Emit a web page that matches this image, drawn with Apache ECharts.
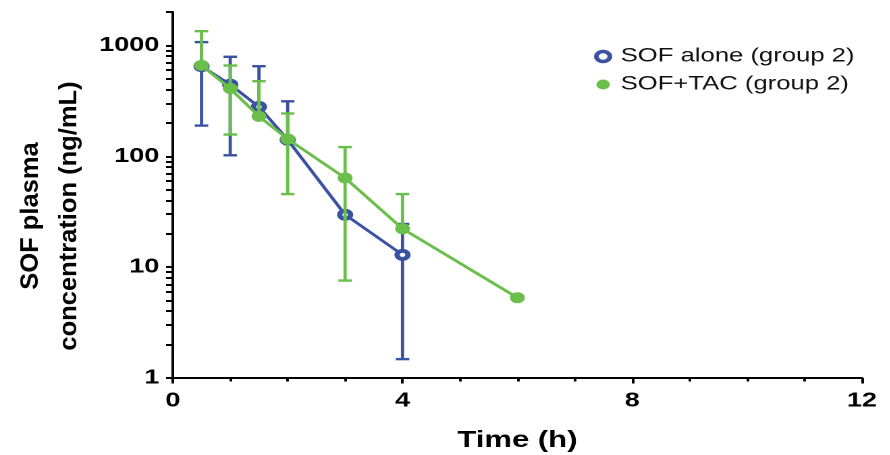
<!DOCTYPE html>
<html>
<head>
<meta charset="utf-8">
<script src="https://cdn.jsdelivr.net/npm/echarts@6/dist/echarts.min.js"></script>
<style>
  html, body { margin: 0; padding: 0; background: #fff; overflow: hidden; }
  /* the original figure is stretched sideways, so the chart is drawn narrow and widened */
  #chart { width: 659px; height: 455px; transform: scaleX(1.35); transform-origin: 0 0; }
</style>
</head>
<body>
<div id="chart"></div>
<script>
const stretch = 1.35
const fontFamily = 'Liberation Sans, Arial, sans-serif'

// SOF alone (group 2)
const aloneTime = [0.5, 1, 1.5, 2, 3, 4]
const aloneMean = [650, 443, 279, 141, 29.7, 12.9]
const aloneUpper = [1070, 789, 649, 313, null, 24.5]
const aloneLower = [189, 102, null, null, null, 1.48]

// SOF+TAC (group 2)
const tacTime = [0.5, 1, 1.5, 2, 3, 4, 6]
const tacMean = [660, 408, 229, 143, 63.7, 22.2, 5.3]
const tacUpper = [1343, 658, 475, 243, 121, 45.6, null]
const tacLower = [null, 157, null, 45.6, 7.57, null, null]

const yLabels = [1, 10, 100, 1000]
const yTicks = [1, 2, 3, 4, 5, 6, 7, 8, 9, 10, 20, 30, 40, 50, 60, 70, 80, 90,
  100, 200, 300, 400, 500, 600, 700, 800, 900, 1000, 2000]

const blue = '#3b52a3'
const green = '#6abf4b'

function errData(time, mean, lower, upper) {
  return time.map((t, i) => [t, mean[i], lower[i] == null ? mean[i] : lower[i], upper[i] == null ? mean[i] : upper[i]])
}

function errRender(color) {
  return function (params, api) {
    const x = api.value(0)
    const m = api.value(1)
    const lo = api.value(2)
    const hi = api.value(3)
    const pm = api.coord([x, m])
    const cap = 5
    const style = { stroke: color, lineWidth: 2.4 }
    const children = []
    ;[lo, hi].forEach(v => {
      if (v === m) return
      const p = api.coord([x, v])
      children.push({ type: 'line', shape: { x1: pm[0], y1: pm[1], x2: p[0], y2: p[1] }, style: style })
      children.push({ type: 'line', shape: { x1: p[0] - cap, y1: p[1], x2: p[0] + cap, y2: p[1] }, style: style })
    })
    return { type: 'group', children: children }
  }
}

const chart = echarts.init(document.getElementById('chart'), null, { devicePixelRatio: 2 })

const option = {
  animation: false,
  grid: { left: 128, right: 20.5, top: 12, bottom: 77, outerBoundsMode: 'none' },
  legend: {
    left: 435,
    top: 42,
    orient: 'vertical',
    itemWidth: 16,
    itemHeight: 10,
    itemGap: 9,
    textStyle: { fontFamily: fontFamily, fontSize: 19, color: '#111' },
    data: [
      { name: 'SOF alone (group 2)', icon: 'circle', itemStyle: { color: '#fff', borderColor: blue, borderWidth: 3.5 } },
      { name: 'SOF+TAC (group 2)', icon: 'circle', itemStyle: { color: green, borderWidth: 0 } }
    ]
  },
  xAxis: {
    type: 'value',
    min: 0,
    max: 12,
    interval: 4,
    name: 'Time (h)',
    nameLocation: 'middle',
    nameGap: 51,
    nameTextStyle: { fontFamily: fontFamily, fontSize: 23, fontWeight: 'bold', color: '#000' },
    axisLine: { show: true, lineStyle: { color: '#000', width: 2 } },
    axisTick: { show: true, length: 5.5, lineStyle: { color: '#000', width: 2 } },
    minorTick: { show: true, splitNumber: 4, length: 3.5, lineStyle: { color: '#000', width: 2 } },
    axisLabel: { margin: 13, fontFamily: fontFamily, fontSize: 20, fontWeight: 'bold', color: '#000' },
    splitLine: { show: false },
    minorSplitLine: { show: false }
  },
  yAxis: {
    type: 'log',
    logBase: 10,
    min: 1,
    max: 2000,
    axisLine: { show: true, lineStyle: { color: '#000', width: 2 } },
    axisTick: { show: true, length: 5, customValues: yTicks, lineStyle: { color: '#000', width: 2 } },
    axisLabel: {
      margin: 10,
      customValues: yTicks,
      formatter: v => (yLabels.indexOf(v) >= 0 ? String(v) : ''),
      fontFamily: fontFamily, fontSize: 20, fontWeight: 'bold', color: '#000'
    },
    splitLine: { show: false }
  },
  graphic: [{
    type: 'text',
    x: 37,
    y: 216,
    rotation: Math.PI / 2,
    scaleX: 1,
    scaleY: 1 / stretch,
    style: {
      text: 'SOF plasma\nconcentration (ng/mL)',
      font: 'bold 25.5px ' + fontFamily,
      lineHeight: 39,
      align: 'center',
      verticalAlign: 'middle',
      fill: '#000'
    }
  }],
  series: [
    {
      name: 'SOF alone err',
      type: 'custom',
      z: 1,
      renderItem: errRender(blue),
      encode: { x: 0, y: [1, 2, 3] },
      data: errData(aloneTime, aloneMean, aloneLower, aloneUpper)
    },
    {
      name: 'SOF alone (group 2)',
      type: 'line',
      z: 2,
      symbol: 'circle',
      symbolSize: 8,
      lineStyle: { color: blue, width: 2.6 },
      itemStyle: { color: '#fff', borderColor: blue, borderWidth: 4 },
      data: aloneTime.map((t, i) => [t, aloneMean[i]])
    },
    {
      name: 'SOF+TAC err',
      type: 'custom',
      z: 3,
      renderItem: errRender(green),
      encode: { x: 0, y: [1, 2, 3] },
      data: errData(tacTime, tacMean, tacLower, tacUpper)
    },
    {
      name: 'SOF+TAC (group 2)',
      type: 'line',
      z: 4,
      symbol: 'circle',
      symbolSize: 11,
      lineStyle: { color: green, width: 2.6 },
      itemStyle: { color: green, borderWidth: 0 },
      data: tacTime.map((t, i) => [t, tacMean[i]])
    }
  ]
}

chart.setOption(option)
</script>
</body>
</html>
